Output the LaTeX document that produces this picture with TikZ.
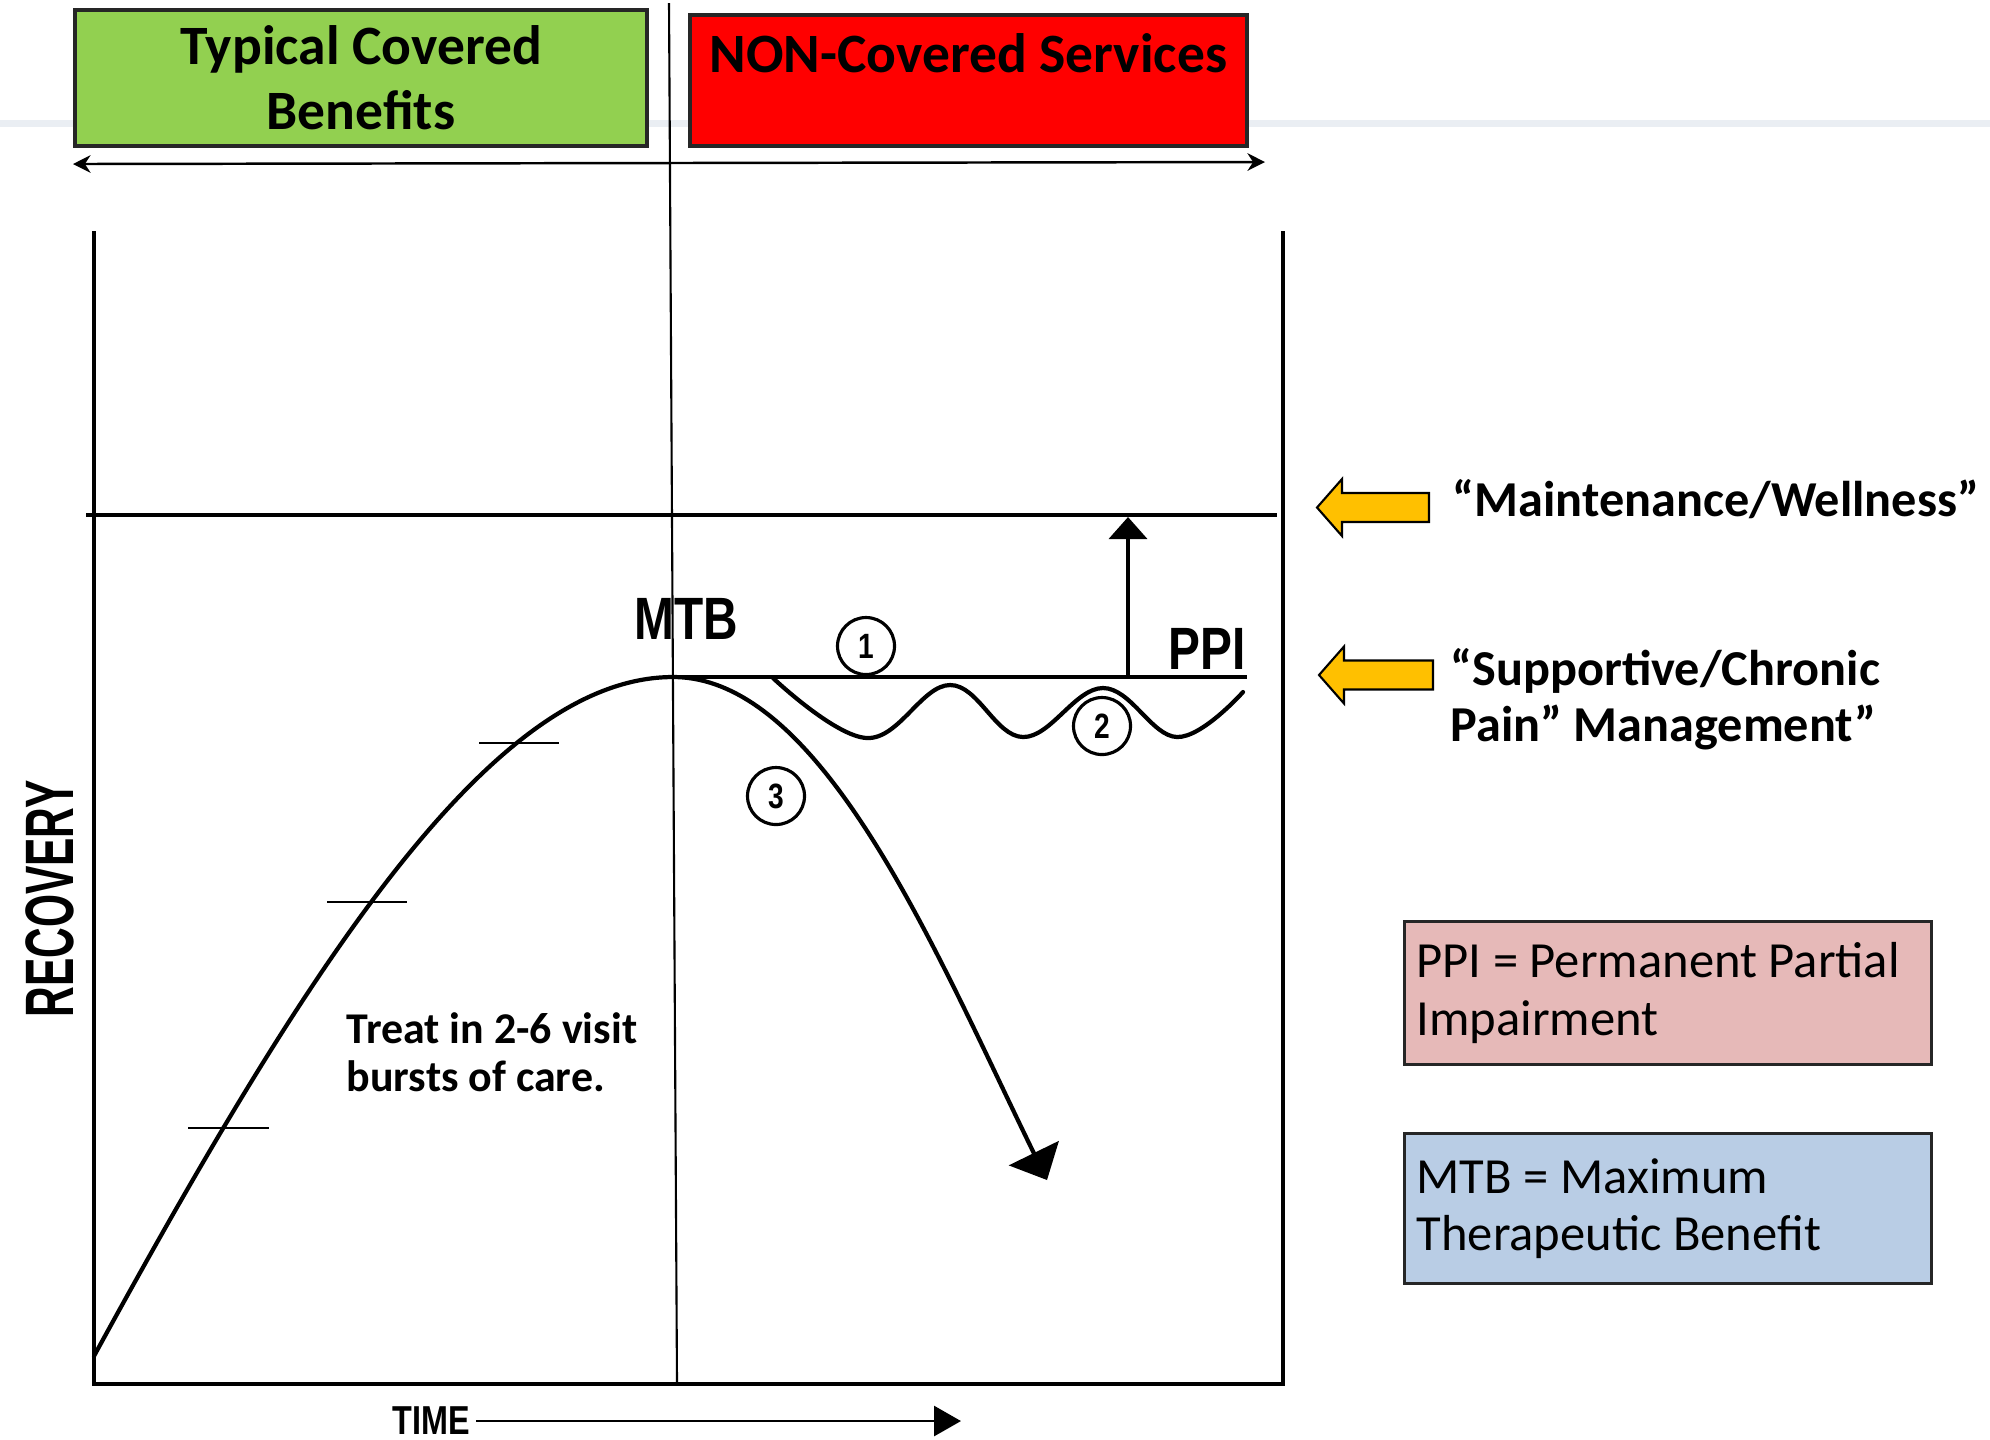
\documentclass[tikz,border=0pt]{standalone}
\usepackage{fontspec}
\setmainfont{Carlito}
\newfontfamily\condfont[FakeStretch=0.8]{Liberation Sans}
\newfontfamily\narrowfont[FakeStretch=0.62]{Liberation Sans}
\usetikzlibrary{arrows.meta, positioning, calc}

\definecolor{covgreen}{RGB}{146, 208, 80}
\definecolor{noncovred}{RGB}{255, 0, 0}
\definecolor{callgold}{RGB}{255, 192, 0}
\definecolor{ppipink}{RGB}{230, 185, 184}
\definecolor{mtbblue}{RGB}{185, 205, 229}
\definecolor{slidegray}{RGB}{234, 238, 243}
\newcommand{\plainspacing}{\spaceskip=0pt\relax}

\begin{document}
\begin{tikzpicture}[
  headbox/.style={draw=black!85, line width=0.9pt, inner sep=0pt, align=center, font=\fontsize{15.8pt}{18.5pt}\selectfont\bfseries},
  keybox/.style={draw=black!85, line width=0.9pt, anchor=north west, minimum width=5.27cm, inner xsep=0.12cm, text width=5.03cm, align=left, font=\fontsize{14.4pt}{16.3pt}\selectfont},
  chart/.style={line width=1.2pt, line cap=round},
  tickmark/.style={line width=0.8pt},
  pathnum/.style={draw, circle, line width=0.9pt, minimum size=0.57cm, inner sep=0pt, font=\condfont\bfseries\fontsize{10pt}{10pt}\selectfont},
  condlabel/.style={inner sep=0pt, font=\condfont\bfseries\fontsize{17pt}{17pt}\selectfont},
  callout/.style={fill=callgold, draw=black, line width=0.6pt, line join=miter},
  calltext/.style={anchor=north west, inner sep=0pt, align=left, font=\fontsize{14.3pt}{15.8pt}\selectfont\bfseries},
]
  \path[use as bounding box, fill=white] (0,0) rectangle (19.9,-14.39);
  \draw[slidegray, line width=2pt] (0,-1.23) -- (19.9,-1.23);

  % Coverage headers
  \node[headbox, fill=covgreen, minimum width=5.72cm, minimum height=1.36cm] (covered) at (3.61,-0.78) {Typical Covered\\Benefits};
  \node[headbox, fill=noncovred, minimum width=5.57cm, text height=0.57cm, text depth=0.74cm] (noncovered) at (9.685,-0.805) {NON-Covered Services};
  \coordinate (spanL) at (0.73,-1.64);
  \coordinate (spanR) at (12.65,-1.62);
  \draw[{Stealth[length=5pt,width=5pt]}-{Stealth[length=5pt,width=5pt]}, line width=0.7pt] (spanL) -- (spanR);
  \coordinate (divtop) at (6.69,-0.03);
  \coordinate (divbot) at (6.77,-13.84);
  \draw[line width=0.6pt] (divtop) -- (divbot);

  % Axes and levels
  \coordinate (ytop) at (0.94,-2.31);
  \coordinate (origin) at (0.94,-13.84);
  \coordinate (xend) at (12.83,-13.84);
  \coordinate (rtop) at (12.83,-2.31);
  \draw[line width=1.2pt] (ytop) -- (origin) -- (xend) -- (rtop);
  \coordinate (wellL) at (0.86,-5.15);
  \coordinate (wellR) at (12.77,-5.15);
  \draw[line width=1.4pt] (wellL) -- (wellR);
  \coordinate (peak) at (6.73,-6.77);
  \coordinate (plateauR) at (12.47,-6.77);
  \draw[line width=1.1pt] (peak) -- (plateauR);
  \coordinate (ppiroot) at (11.28,-6.77);
  \coordinate (ppitop) at (11.28,-5.17);
  \draw[-{Triangle[length=0.22cm,width=0.38cm]}, line width=1.1pt] (ppiroot) -- (ppitop);

  % Recovery curve
  \coordinate (start) at (0.94,-13.56);
  \coordinate (drop) at (10.47,-11.80);
  \draw[chart, -{Triangle[length=0.3cm,width=0.55cm]}] (start) .. controls (3.10,-9.61) and (4.93,-6.77) .. (peak) .. controls (8.23,-6.77) and (9.37,-9.55) .. (drop);
  \draw[tickmark] (1.88,-11.28) -- (2.69,-11.28);
  \draw[tickmark] (3.27,-9.02) -- (4.07,-9.02);
  \draw[tickmark] (4.79,-7.43) -- (5.59,-7.43);
  \draw[chart] plot[smooth, tension=0.65] coordinates {(7.73,-6.78) (8.67,-7.38) (9.50,-6.85) (10.23,-7.37) (11.03,-6.88) (11.77,-7.37) (12.43,-6.92)};

  \node[condlabel] (mtb) at (6.86,-6.19) {MTB};
  \node[condlabel] (ppi) at (12.07,-6.49) {PPI};
  \node[pathnum] (one) at (8.66,-6.46) {1};
  \node[pathnum] (two) at (11.02,-7.26) {2};
  \node[pathnum] (three) at (7.76,-7.96) {3};
  \node[anchor=north west, inner sep=0pt, align=left, font=\fontsize{12.5pt}{13.7pt}\selectfont\bfseries] (treat) at (3.46,-10.12) {Treat in 2-6 visit\\bursts of care.};

  \node[rotate=90, inner sep=0pt, font=\narrowfont\bfseries\fontsize{19.5pt}{19.5pt}\selectfont] (recovery) at (0.495,-8.99) {RECOVERY};
  \node[inner sep=0pt, font=\condfont\bfseries\fontsize{11.5pt}{11.5pt}\selectfont] (time) at (4.31,-14.21) {TIME};
  \coordinate (timeend) at (9.61,-14.21);
  \draw[-{Triangle[length=0.27cm,width=0.3cm]}, line width=0.8pt, shorten <=0.06cm] (time.east) -- (timeend);

  % Care levels
  \coordinate (wellarrow) at (13.17,-5.075);
  \draw[callout] (wellarrow) -- ++(0.25,0.285) -- ++(0,-0.14) -- ++(0.87,0) -- ++(0,-0.29) -- ++(-0.87,0) -- ++(0,-0.14) -- cycle;
  \coordinate (supparrow) at (13.19,-6.75);
  \draw[callout] (supparrow) -- ++(0.25,0.285) -- ++(0,-0.14) -- ++(0.89,0) -- ++(0,-0.29) -- ++(-0.89,0) -- ++(0,-0.14) -- cycle;
  \node[calltext] (welltext) at (14.52,-4.79) {“Maintenance/Wellness”};
  \node[calltext] (supptext) at (14.50,-6.48) {“Supportive/Chronic\\Pain” Management”};

  % Key
  \node[keybox, fill=ppipink, minimum height=1.43cm] (ppikey) at (14.03,-9.20) {\plainspacing PPI = Permanent Partial\\Impairment};
  \node[keybox, fill=mtbblue, minimum height=1.50cm] (mtbkey) at (14.03,-11.32) {\plainspacing MTB = Maximum\\Therapeutic Benefit};
\end{tikzpicture}
\end{document}
